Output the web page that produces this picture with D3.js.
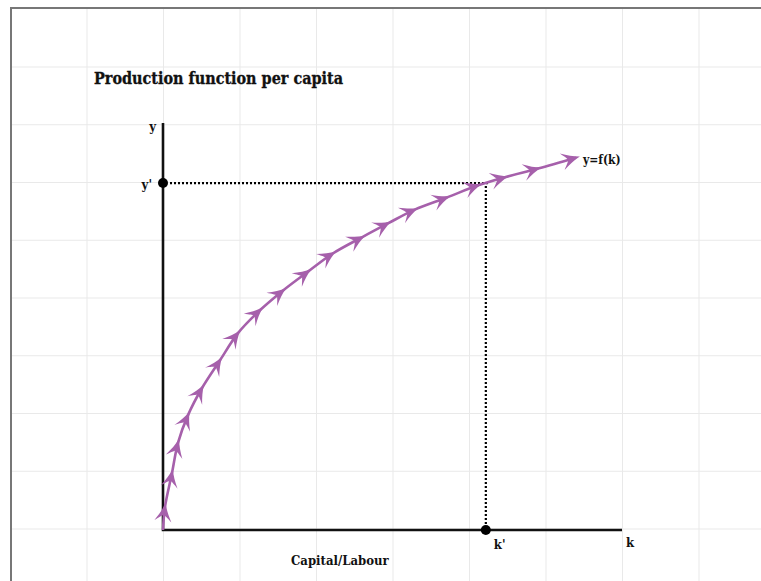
<!DOCTYPE html>
<html>
<head>
<meta charset="utf-8">
<script src="https://cdn.jsdelivr.net/npm/d3@7"></script>
<style>
  html, body { margin: 0; padding: 0; background: #fff; }
  svg { display: block; }
  .lbl { font-family: "DejaVu Serif", serif; font-weight: bold; fill: #111; font-stretch: condensed; }
</style>
</head>
<body>
<svg id="chart" width="761" height="581"></svg>
<script>
// ---- data (grid units) ----
const curveK = [0, 0.026, 0.118, 0.196, 0.327, 0.51, 0.745, 0.98, 1.27, 1.57, 1.90, 2.22, 2.60, 2.94, 3.29, 3.71, 4.12, 4.47, 4.90, 5.40];
const curveY = [0, 0.40, 0.99, 1.51, 1.99, 2.46, 2.94, 3.41, 3.81, 4.15, 4.48, 4.79, 5.07, 5.31, 5.55, 5.76, 5.97, 6.11, 6.26, 6.45];
const kPrime = 4.22;
const yPrime = 6.01;
const kMax = 6;
const yMax = 7.05;
const title = "Production function per capita";
const xTitle = "Capital/Labour";
const curveLabel = "y=f(k)";
const axisLabels = { x: "k", y: "y", kp: "k'", yp: "y'" };

const svg = d3.select("#chart");
const W = 761, H = 581;

// background grid
const gridX = d3.range(0, 10).map(i => 10.5 + i * 76.5);
const gridY = d3.range(0, 10).map(i => 9.25 + i * 57.75);
const g0 = svg.append("g");
g0.selectAll("line.gv").data(gridX.slice(1)).join("line")
  .attr("x1", d => d).attr("x2", d => d).attr("y1", 9).attr("y2", H)
  .attr("stroke", "#e9e9e9").attr("stroke-width", 1);
g0.selectAll("line.gh").data(gridY.slice(1)).join("line")
  .attr("x1", 11).attr("x2", W).attr("y1", d => d).attr("y2", d => d)
  .attr("stroke", "#e9e9e9").attr("stroke-width", 1);
// frame
g0.append("path").attr("d", `M11,${H} L11,8 L${W},8`)
  .attr("fill", "none").attr("stroke", "#777").attr("stroke-width", 2);

// scales
const x = d3.scaleLinear().domain([0, kMax]).range([163, 622]);
const y = d3.scaleLinear().domain([0, yMax]).range([530, 123]);

// title
svg.append("text").attr("class", "lbl").attr("x", 94).attr("y", 84)
  .attr("font-size", 16).attr("stroke", "#111").attr("stroke-width", 0.3).text(title);

// dotted guides
svg.append("line").attr("x1", x(0) + 7).attr("x2", x(kPrime) + 2)
  .attr("y1", y(yPrime)).attr("y2", y(yPrime))
  .attr("stroke", "#000").attr("stroke-width", 2.2).attr("stroke-dasharray", "2,2");
svg.append("line").attr("x1", x(kPrime)).attr("x2", x(kPrime))
  .attr("y1", y(yPrime) + 3).attr("y2", y(0) - 5)
  .attr("stroke", "#000").attr("stroke-width", 2.2).attr("stroke-dasharray", "2,2");

// axes
svg.append("path")
  .attr("d", `M${x(0)},${y(yMax)} L${x(0)},${y(0)} L${x(kMax)},${y(0)}`)
  .attr("fill", "none").attr("stroke", "#111").attr("stroke-width", 2.6);

// arrow marker
const defs = svg.append("defs");
defs.append("marker").attr("id", "arr")
  .attr("viewBox", "-14 -8 16 16").attr("markerWidth", 21).attr("markerHeight", 21)
  .attr("refX", -2).attr("refY", 0).attr("orient", "auto").attr("markerUnits", "userSpaceOnUse")
  .append("path")
  .attr("d", "M1,0 C-4,-1.5 -8,-3.5 -13,-6.5 C-10,-3 -9,-1.5 -8,0 C-9,1.5 -10,3 -13,6.5 C-8,3.5 -4,1.5 1,0 Z")
  .attr("fill", "#a660ab");

// curve
const pts = curveK.map((k, i) => [k, curveY[i]]);
const line = d3.line().x(d => x(d[0])).y(d => y(d[1])).curve(d3.curveCatmullRom.alpha(0.5));
svg.append("path").attr("d", line(pts))
  .attr("fill", "none").attr("stroke", "#a660ab").attr("stroke-width", 2.6)
  .attr("marker-mid", "url(#arr)").attr("marker-end", "url(#arr)");

// dots
svg.append("circle").attr("cx", x(0)).attr("cy", y(yPrime)).attr("r", 5).attr("fill", "#000");
svg.append("circle").attr("cx", x(kPrime)).attr("cy", y(0)).attr("r", 5).attr("fill", "#000");

// labels
svg.append("text").attr("class", "lbl").attr("x", x(0) - 7).attr("y", 131)
  .attr("text-anchor", "end").attr("font-size", 13).text(axisLabels.y);
svg.append("text").attr("class", "lbl").attr("x", x(0) - 11).attr("y", y(yPrime) + 6)
  .attr("text-anchor", "end").attr("font-size", 13).text(axisLabels.yp);
svg.append("text").attr("class", "lbl").attr("x", x(kPrime) + 8).attr("y", 549)
  .attr("font-size", 13).text(axisLabels.kp);
svg.append("text").attr("class", "lbl").attr("x", x(kMax) + 4).attr("y", 547)
  .attr("font-size", 13).text(axisLabels.x);
svg.append("text").attr("class", "lbl").attr("x", 291).attr("y", 565)
  .attr("font-size", 13).text(xTitle);
svg.append("text").attr("class", "lbl").attr("x", 583).attr("y", 164)
  .attr("font-size", 12).text(curveLabel);
</script>
</body>
</html>
